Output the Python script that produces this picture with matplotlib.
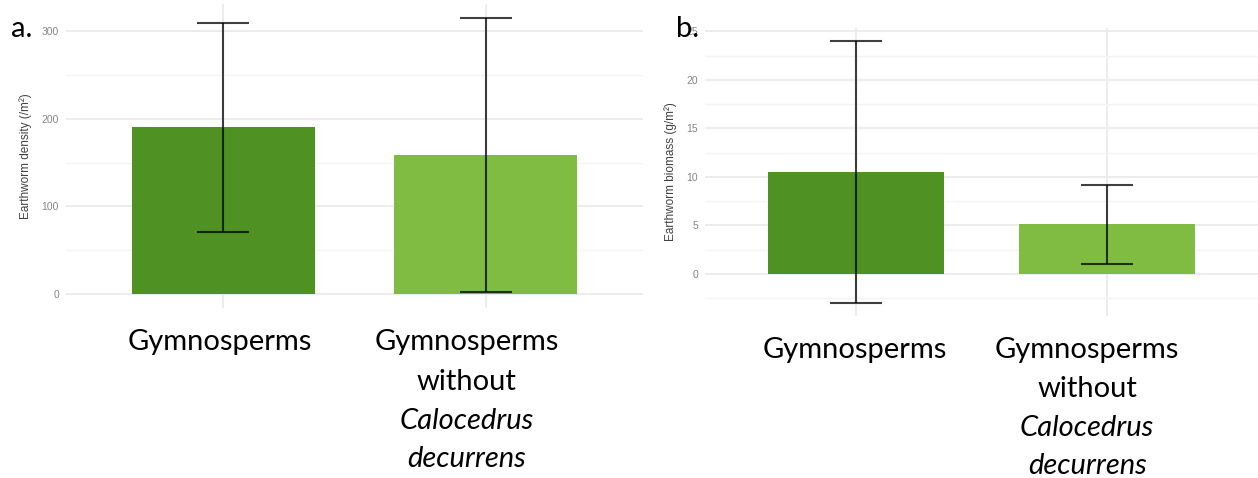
import matplotlib
matplotlib.use("Agg")
import matplotlib.pyplot as plt
from matplotlib.ticker import MultipleLocator

# Earthworm data for gymnosperm plots
categories = ["Gymnosperms", "Gymnosperms without Calocedrus decurrens"]
label_lines = [
    [("Gymnosperms", "normal")],
    [("Gymnosperms", "normal"), ("without", "normal"),
     ("Calocedrus", "italic"), ("decurrens", "italic")],
]
density_mean = [190, 159]
density_err = [119, 156]
biomass_mean = [10.5, 5.1]
biomass_err = [13.5, 4.05]

bar_colors = ["#4F9122", "#80BC42"]

W, H = 1258, 478
fig = plt.figure(figsize=(W / 100, H / 100), dpi=100)
fig.patch.set_facecolor("white")


def px_axes(left, top, right, bottom):
    return fig.add_axes([left / W, 1 - bottom / H, (right - left) / W, (bottom - top) / H])


def style_axes(ax, major, minor):
    ax.set_facecolor("white")
    for s in ax.spines.values():
        s.set_visible(False)
    ax.yaxis.set_major_locator(MultipleLocator(major))
    ax.yaxis.set_minor_locator(MultipleLocator(minor))
    ax.set_xticks(xpos)
    ax.set_xticklabels([])
    ax.grid(True, which="major", color="#ebebeb", lw=1.3, zorder=0)
    ax.grid(True, which="minor", axis="y", color="#f4f4f4", lw=1.0, zorder=0)
    ax.set_axisbelow(True)
    ax.tick_params(axis="both", which="both", length=0)
    ax.tick_params(axis="y", labelsize=7.5, labelcolor="#858585", pad=5)
    for t in ax.get_yticklabels():
        t.set_fontfamily("Liberation Sans")
    ax.set_xlim(0.4, 2.6)


def draw_panel(ax, means, errs):
    ax.bar(xpos, means, width=0.7, color=bar_colors, edgecolor="none", zorder=2)
    ax.errorbar(xpos, means, yerr=errs, fmt="none", ecolor="black", alpha=0.75,
                elinewidth=1.5, capsize=18.5, capthick=1.5, zorder=3)


def draw_labels(ax, offsets_px, baselines_px):
    for i, lines in enumerate(label_lines):
        for j, (txt, style) in enumerate(lines):
            ax.annotate(txt, xy=(xpos[i], H - baselines_px[j]),
                        xycoords=("data", "figure pixels"),
                        xytext=(offsets_px[i] * 0.72, 0), textcoords="offset points",
                        ha="center", va="baseline", fontsize=21,
                        fontfamily="Lato", fontstyle=style, color="black",
                        annotation_clip=False)


xpos = [1, 2]

# Panel a: density
ax1 = px_axes(66, 4, 643, 308)
draw_panel(ax1, density_mean, density_err)
style_axes(ax1, 100, 50)
lo = min(m - e for m, e in zip(density_mean, density_err))
hi = max(m + e for m, e in zip(density_mean, density_err))
pad = 0.05 * (hi - min(lo, 0))
ax1.set_ylim(min(lo, 0) - pad, hi + pad)
ax1.set_ylabel("Earthworm density (/m²)", fontsize=8.5, color="#404040",
               fontfamily="Liberation Sans", labelpad=7)
draw_labels(ax1, [-4, -19], [350, 390, 429, 467])

# Panel b: biomass
ax2 = px_axes(705, 28, 1258, 316)
draw_panel(ax2, biomass_mean, biomass_err)
style_axes(ax2, 5, 2.5)
lo = min(m - e for m, e in zip(biomass_mean, biomass_err))
hi = max(m + e for m, e in zip(biomass_mean, biomass_err))
pad = 0.05 * (hi - lo)
ax2.set_ylim(lo - pad, hi + pad)
ax2.set_ylabel("Earthworm biomass (g/m²)", fontsize=8.5, color="#404040",
               fontfamily="Liberation Sans", labelpad=7)
draw_labels(ax2, [-1, -20], [358, 397, 436, 474])

# Panel letters
fig.text(11 / W, 1 - 37 / H, "a.", fontsize=21, fontfamily="Lato", va="baseline", ha="left")
fig.text(676 / W, 1 - 37 / H, "b.", fontsize=21, fontfamily="Lato", va="baseline", ha="left")

fig.savefig("out.png", dpi=100)
